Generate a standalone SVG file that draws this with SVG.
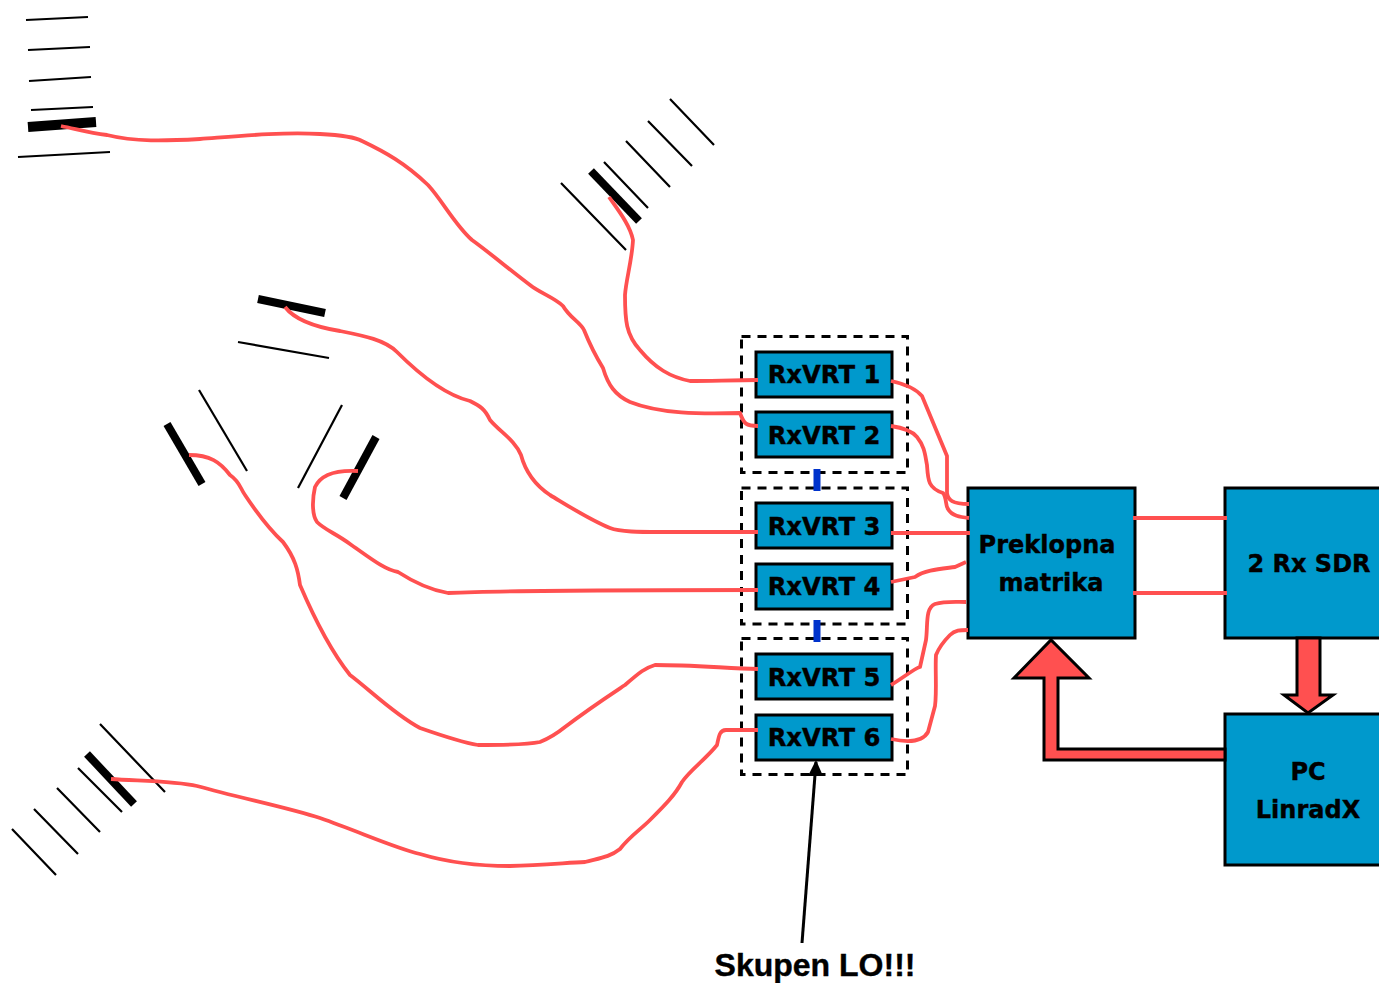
<svg xmlns="http://www.w3.org/2000/svg" width="1379" height="983" viewBox="0 0 1379 983">
<style>
.box{fill:#0099cc;stroke:#000;stroke-width:3}
.t{font-family:"DejaVu Sans",Verdana,sans-serif;font-weight:700;font-size:24px;fill:#000;stroke:#000;stroke-width:.4;text-anchor:middle}
.r{font-size:24.3px}
.w{fill:none;stroke:#ff5050;stroke-width:3.8;stroke-linejoin:round;stroke-linecap:butt}
.d{fill:none;stroke:#000;stroke-width:3;stroke-dasharray:9 7}
.el{stroke:#000;stroke-width:2.200;fill:none}
.de{stroke:#000;stroke-width:8;fill:none}
.big{fill:#ff5050;stroke:#000;stroke-width:3}
.dots{stroke:#0033cc;stroke-width:7;fill:none}
</style>
<g id="antenna-1">
<path class="el" d="M26 20L88 17M28 50L90 47M29 81L91 77M31 110L93 107M18 157L110 152"/>
<path class="de" d="M28 127L96 122" style="stroke-width:10"/>
</g>
<g id="antenna-2">
<path class="el" d="M561 183L626 250M604 162L648 208M626 141L670 187M648 121L692 166M670 99L714 145"/>
<path class="de" d="M591 171L639 221"/>
</g>
<g id="antenna-3">
<path class="el" d="M238 342L329 358"/>
<path class="de" d="M258 299L325 313"/>
</g>
<g id="antenna-4">
<path class="el" d="M199 390L247 471"/>
<path class="de" d="M167 424L202 484"/>
</g>
<g id="antenna-5">
<path class="el" d="M342 405L298 488"/>
<path class="de" d="M376 437L343 498"/>
</g>
<g id="antenna-6">
<path class="el" d="M100 724L165 792M78 768L122 812M57 788L100 832M34 809L78 854M12 829L56 875"/>
<path class="de" d="M87 754L134 804"/>
</g>
<g id="groups">
<rect class="d" x="741.500" y="336.500" width="166" height="136"/>
<rect class="d" x="741.500" y="488" width="166" height="136"/>
<rect class="d" x="741.500" y="638.500" width="166" height="136"/>
<path class="dots" d="M817 469V491M817 620V642"/>
</g>
<g id="rx1"><rect class="box" x="756" y="352" width="136" height="45"/><text class="t r" x="824" y="383">RxVRT 1</text></g>
<g id="rx2"><rect class="box" x="756" y="412" width="136" height="45"/><text class="t r" x="824" y="444">RxVRT 2</text></g>
<g id="rx3"><rect class="box" x="756" y="503" width="136" height="45"/><text class="t r" x="824" y="535">RxVRT 3</text></g>
<g id="rx4"><rect class="box" x="756" y="564" width="136" height="45"/><text class="t r" x="824" y="595">RxVRT 4</text></g>
<g id="rx5"><rect class="box" x="756" y="654" width="136" height="45"/><text class="t r" x="824" y="686">RxVRT 5</text></g>
<g id="rx6"><rect class="box" x="756" y="715" width="136" height="45"/><text class="t r" x="824" y="746">RxVRT 6</text></g>
<g id="matrix"><rect class="box" x="968" y="488" width="167" height="150"/><text class="t" x="1047" y="553">Preklopna</text><text class="t" x="1051" y="591">matrika</text></g>
<g id="sdr"><rect class="box" x="1225" y="488" width="170" height="150"/><text class="t" x="1309" y="572">2 Rx SDR</text></g>
<g id="pc"><rect class="box" x="1225" y="714" width="170" height="151"/><text class="t" x="1308" y="780">PC</text><text class="t" x="1308" y="818">LinradX</text></g>
<g id="connectors">
<path class="w" d="M61 126C80 130 90 133 107 135C135 142 165 141 200 139C240 136 280 132 320 134C340 135 355 137 362 141C385 152 405 163 428 185C442 200 455 225 472 240C490 253 510 270 530 285C540 293 555 298 563 306C570 318 580 322 584 330C590 345 595 355 603 368C608 385 615 395 630 402C660 414 700 414 740 413C744 424 746 426 758 426"/>
<path class="w" d="M609 197C618 210 630 225 633 240C632 260 626 280 625 295C625 320 626 335 640 350C655 368 670 377 690 381C710 381 735 380 758 380"/>
<path class="w" d="M285 307C295 320 315 327 340 331C365 336 385 340 397 352C420 375 445 395 470 401C480 406 485 409 490 420C500 432 515 440 521 455C525 470 535 485 550 495C570 507 590 520 610 528C620 532 640 532 660 532H758"/>
<path class="w" d="M189 455C210 455 220 462 230 475C240 482 240 488 245 495C255 510 270 530 283 542C295 558 298 570 300 585C315 620 330 650 350 675C370 690 395 715 420 728C440 735 460 742 478 745C500 745 525 745 540 742C550 738 555 735 565 727C590 708 610 695 625 685C640 672 645 668 655 665C690 665 725 668 758 669"/>
<path class="w" d="M358 471C340 470 322 472 315 487C312 500 312 515 317 522C325 530 335 533 350 544C370 558 385 570 398 572C415 583 430 590 448 593C520 590 640 590 758 590"/>
<path class="w" d="M111 779C140 781 175 781 197 786C240 798 290 808 320 818C360 832 395 848 420 854C450 863 480 866 510 866C540 865 565 863 585 862C600 858 610 857 620 849C630 836 640 830 650 820C665 805 675 795 682 782C690 770 705 760 717 745C719 735 720 730 726 730H758"/>
<path class="w" d="M891 381C905 384 915 388 922 396L947 456V493C948 500 952 504 969 504"/>
<path class="w" d="M891 426C905 428 912 431 917 437C925 447 925 455 927 465C928 480 928 488 943 493C947 498 945 505 948 509C952 516 960 517 969 518"/>
<path class="w" d="M891 533H970"/>
<path class="w" d="M891 582L915 577C925 570 940 569 955 567L966 562"/>
<path class="w" d="M891 685C900 680 915 668 920 667L926 640C928 625 925 608 935 604C945 601 955 602 966 602"/>
<path class="w" d="M891 739C905 742 922 743 928 732L935 706C937 690 935 670 936 655C940 645 945 640 950 635C955 630 960 630 968 630"/>
<path class="w" d="M1133 518H1227M1133 593H1227"/>
<path d="M816 762L802 943" stroke="#000" stroke-width="3" fill="none" />
<path d="M816 760L808 776H823Z" fill="#000"/>
<path class="big" d="M1225 749H1058V678H1089L1051 640L1014 678H1044V760H1225Z"/>
<path class="big" d="M1297 638V695H1284L1308 713L1333 695H1320V638Z"/>
</g>
<g id="lo"><text x="815" y="976" style="font-family:'Liberation Sans',Arial,sans-serif;font-weight:700;font-size:32px;stroke:#000;stroke-width:.4;text-anchor:middle">Skupen LO!!!</text></g>
</svg>
